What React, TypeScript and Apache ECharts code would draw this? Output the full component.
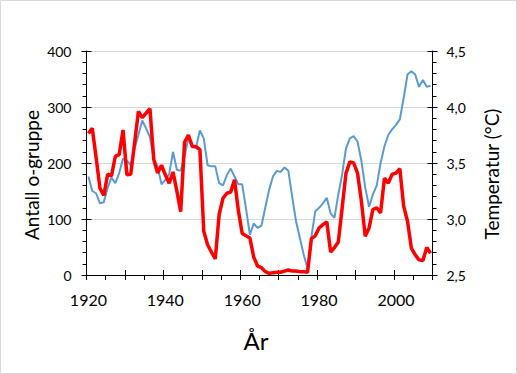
import React, { useEffect, useRef } from 'react';
import * as echarts from 'echarts';

// Categories: years 1920–2009
const years: string[] = Array.from({ length: 90 }, (_, i) => String(1920 + i));

// Antall o-gruppe (left axis)
const countValues: number[] = [
  253, 262, 210, 155, 142, 180, 177, 212, 215, 259,
  179, 180, 235, 292, 281, 289, 297, 206, 182, 196,
  179, 164, 184, 150, 113, 237, 250, 230, 229, 224,
  78, 54, 41, 29, 108, 137, 146, 148, 170, 115,
  74, 70, 66, 32, 16, 13, 6, 3, 4, 5,
  5, 7, 9, 7, 7, 6, 6, 5, 65, 70,
  84, 90, 95, 41, 49, 59, 120, 182, 202, 200,
  182, 132, 69, 84, 117, 120, 111, 173, 164, 180,
  182, 190, 123, 96, 48, 36, 27, 26, 49, 39,
];

// Temperatur (°C) (right axis)
const tempValues: number[] = [
  3.38, 3.25, 3.23, 3.14, 3.15, 3.28, 3.37, 3.32, 3.41, 3.54,
  3.52, 3.48, 3.63, 3.75, 3.88, 3.81, 3.73, 3.54, 3.47, 3.31,
  3.35, 3.40, 3.60, 3.44, 3.43, 3.56, 3.72, 3.64, 3.64, 3.79,
  3.72, 3.48, 3.47, 3.47, 3.32, 3.30, 3.39, 3.45, 3.38, 3.31,
  3.31, 3.09, 2.86, 2.96, 2.92, 2.94, 3.10, 3.26, 3.38, 3.43,
  3.42, 3.46, 3.43, 3.20, 2.98, 2.83, 2.68, 2.56, 2.84, 3.07,
  3.10, 3.14, 3.19, 3.05, 3.01, 3.22, 3.40, 3.63, 3.72, 3.74,
  3.69, 3.52, 3.28, 3.11, 3.22, 3.30, 3.50, 3.65, 3.75, 3.80,
  3.84, 3.89, 4.08, 4.29, 4.32, 4.29, 4.18, 4.24, 4.18, 4.19,
];

const leftTitle = 'Antall o-gruppe';
const rightTitle = 'Temperatur (°C)';
const bottomTitle = 'År';

const FONT = 'Lato, "Noto Sans", sans-serif';

export default function App() {
  const ref = useRef<HTMLDivElement>(null);

  useEffect(() => {
    if (!ref.current) return;
    const chart = echarts.init(ref.current, null, { renderer: 'svg' });
    const black = '#000000';
    const option: any = {
      animation: false,
      backgroundColor: '#ffffff',
      grid: { left: 86.5, top: 51, width: 346, height: 224, containLabel: false },
      xAxis: [
        {
          type: 'category',
          data: years,
          boundaryGap: true,
          axisLine: { show: true, lineStyle: { color: black, width: 1 } },
          axisTick: { show: true, interval: 4, length: 5, inside: false, lineStyle: { color: black } },
          axisLabel: { interval: 19, margin: 16, color: black, fontSize: 16, fontFamily: FONT },
          splitLine: { show: false },
        },
        {
          type: 'category',
          data: years,
          boundaryGap: true,
          position: 'bottom',
          axisLine: { show: false },
          axisTick: { show: true, interval: 9, length: 5, inside: true, lineStyle: { color: black } },
          axisLabel: { show: false },
          splitLine: { show: false },
        },
      ],
      yAxis: [
        {
          type: 'value',
          min: 0,
          max: 400,
          interval: 100,
          position: 'left',
          axisLine: { show: true, lineStyle: { color: black } },
          axisTick: { show: true, length: 5, inside: false, lineStyle: { color: black } },
          minorTick: { show: true, splitNumber: 5, length: 4, lineStyle: { color: black } },
          axisLabel: { margin: 15, color: black, fontSize: 14, fontFamily: FONT },
          splitLine: { show: true, lineStyle: { color: '#d9d9d9', width: 1 } },
          minorSplitLine: { show: false },
        },
        {
          type: 'value',
          min: 0,
          max: 400,
          interval: 100,
          position: 'left',
          axisLine: { show: false },
          axisTick: { show: true, length: 5, inside: true, lineStyle: { color: black } },
          axisLabel: { show: false },
          splitLine: { show: false },
        },
        {
          type: 'value',
          min: 2.5,
          max: 4.5,
          interval: 0.5,
          position: 'right',
          axisLine: { show: true, lineStyle: { color: black } },
          axisTick: { show: true, length: 5, inside: false, lineStyle: { color: black } },
          minorTick: { show: true, splitNumber: 5, length: 4, lineStyle: { color: black } },
          axisLabel: {
            margin: 14,
            color: black,
            fontSize: 14,
            fontFamily: FONT,
            formatter: (v: number) => v.toFixed(1).replace('.', ','),
          },
          splitLine: { show: false },
        },
        {
          type: 'value',
          min: 2.5,
          max: 4.5,
          interval: 0.5,
          position: 'right',
          axisLine: { show: false },
          axisTick: { show: true, length: 5, inside: true, lineStyle: { color: black } },
          axisLabel: { show: false },
          splitLine: { show: false },
        },
      ],
      series: [
        {
          name: rightTitle,
          type: 'line',
          xAxisIndex: 0,
          yAxisIndex: 2,
          data: tempValues,
          symbol: 'none',
          smooth: false,
          lineStyle: { color: '#5B9BD5', width: 2 },
          z: 2,
        },
        {
          name: leftTitle,
          type: 'line',
          xAxisIndex: 0,
          yAxisIndex: 0,
          data: countValues,
          symbol: 'none',
          smooth: false,
          lineStyle: { color: '#FF0000', width: 3.5 },
          z: 3,
        },
      ],
      graphic: [
        {
          type: 'rect',
          shape: { x: 0.5, y: 0.5, width: 516, height: 373 },
          style: { fill: 'none', stroke: '#d9d9d9', lineWidth: 1 },
          silent: true,
        },
        {
          type: 'text',
          x: 31,
          y: 175,
          rotation: Math.PI / 2,
          style: {
            text: leftTitle,
            fill: black,
            font: `19px ${FONT}`,
            textAlign: 'center',
            textVerticalAlign: 'middle',
          },
        },
        {
          type: 'text',
          x: 491,
          y: 174,
          rotation: Math.PI / 2,
          style: {
            text: rightTitle,
            fill: black,
            font: `19px ${FONT}`,
            textAlign: 'center',
            textVerticalAlign: 'middle',
          },
        },
        {
          type: 'text',
          x: 256,
          y: 340,
          style: {
            text: bottomTitle,
            fill: black,
            font: `24px ${FONT}`,
            textAlign: 'center',
            textVerticalAlign: 'middle',
          },
        },
      ],
    };
    chart.setOption(option);
    return () => chart.dispose();
  }, []);

  return (
    <div
      ref={ref}
      style={{ position: 'absolute', left: 0, top: 0, width: 517, height: 374 }}
    />
  );
}
